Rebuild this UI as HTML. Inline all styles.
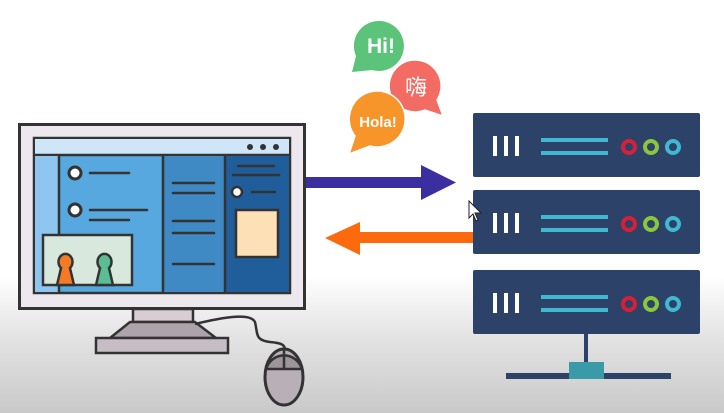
<!DOCTYPE html>
<html><head><style>
html,body{margin:0;padding:0;}
body{width:724px;height:413px;overflow:hidden;background:linear-gradient(#fff 0,#fff 275px,#e2e2e2 340px,#c9c9c9 413px);}
svg{display:block}
</style></head><body>
<svg width="724" height="413" viewBox="0 0 724 413" xmlns="http://www.w3.org/2000/svg">
<path d="M352,72 L356,56 A25,25 0 1 1 372,70 Z" fill="#5cc47a"/>
<text x="381" y="53" font-family="Liberation Sans, sans-serif" font-weight="bold" font-size="21" fill="#fff" text-anchor="middle">Hi!</text>
<path d="M443,116 L437,100 A26,26 0 1 0 425,110 Z" fill="#f26c63" stroke="#fff" stroke-width="1.5"/>
<text x="416" y="95" font-family="Liberation Sans, Noto Sans CJK SC, sans-serif" font-size="22" fill="#fff" text-anchor="middle">嗨</text>
<path d="M349,154 L355,136 A28,28 0 1 1 370,146 Z" fill="#f7952a" stroke="#fff" stroke-width="1.5"/>
<text x="378" y="127" font-family="Liberation Sans, sans-serif" font-weight="bold" font-size="15" fill="#fff" text-anchor="middle">Hola!</text>
<rect x="305" y="177" width="118" height="11" fill="#3b2fa0"/>
<polygon points="421,165 456,182.5 421,200" fill="#3b2fa0"/>
<rect x="358" y="232" width="116" height="11" fill="#fd6a0d"/>
<polygon points="360,222 325,238 360,255" fill="#fd6a0d"/>
<g id="srv">
<rect x="473" y="113" width="227" height="64" rx="2" fill="#2c4269"/>
<rect x="493" y="136" width="4" height="20" fill="#fff"/>
<rect x="504" y="136" width="4" height="20" fill="#fff"/>
<rect x="515" y="136" width="4" height="20" fill="#fff"/>
<rect x="541" y="138" width="67" height="4" fill="#40b8d0"/>
<rect x="541" y="151" width="67" height="4" fill="#40b8d0"/>
<circle cx="629" cy="147" r="6" fill="none" stroke="#d6203a" stroke-width="4"/>
<circle cx="651" cy="147" r="6" fill="none" stroke="#8cc63f" stroke-width="4"/>
<circle cx="673" cy="147" r="6" fill="none" stroke="#40b8d0" stroke-width="4"/>
</g>
<use href="#srv" y="77"/>
<use href="#srv" y="157"/>
<rect x="584" y="334" width="4" height="40" fill="#2c4269"/>
<rect x="506" y="373" width="165" height="6" fill="#2c4269"/>
<rect x="569" y="362" width="35" height="17" fill="#3a9aa8"/>
<path d="M469,201 L469,218 L473,214 L476,221 L478,220 L475,213 L481,213 Z" fill="#fff" stroke="#222" stroke-width="1"/>
<rect x="19.5" y="124.5" width="285" height="184" fill="#ece8ee" stroke="#333" stroke-width="3"/>
<rect x="34" y="138" width="256" height="155" fill="#56a8df" stroke="#333" stroke-width="2.5"/>
<rect x="35" y="139" width="254" height="16" fill="#cfe6f8"/>
<line x1="34" y1="155" x2="290" y2="155" stroke="#333" stroke-width="2.5"/>
<circle cx="250" cy="147" r="3" fill="#333"/><circle cx="263" cy="147" r="3" fill="#333"/><circle cx="276" cy="147" r="3" fill="#333"/>
<rect x="35" y="156" width="24" height="136" fill="#8ec6ef"/>
<line x1="59" y1="155" x2="59" y2="293" stroke="#333" stroke-width="2.5"/>
<rect x="163" y="156" width="62" height="136" fill="#3f8ac4"/>
<rect x="226" y="156" width="63" height="136" fill="#1f5e9a"/>
<line x1="163" y1="155" x2="163" y2="293" stroke="#333" stroke-width="2.5"/>
<line x1="225" y1="155" x2="225" y2="293" stroke="#333" stroke-width="2.5"/>
<g stroke="#333" stroke-width="2.5" stroke-linecap="round">
<line x1="90" y1="173" x2="129" y2="173"/>
<line x1="90" y1="210" x2="147" y2="210"/>
<line x1="90" y1="220" x2="129" y2="220"/>
<line x1="173" y1="183" x2="214" y2="183"/>
<line x1="173" y1="193" x2="214" y2="193"/>
<line x1="173" y1="221" x2="214" y2="221"/>
<line x1="173" y1="233" x2="214" y2="233"/>
<line x1="173" y1="264" x2="214" y2="264"/>
<line x1="238" y1="166" x2="274" y2="166"/>
<line x1="233" y1="175" x2="279" y2="175"/>
<line x1="252" y1="192" x2="275" y2="192"/>
</g>
<circle cx="75" cy="173" r="6" fill="#fff" stroke="#333" stroke-width="3"/>
<circle cx="75" cy="210" r="6" fill="#fff" stroke="#333" stroke-width="3"/>
<circle cx="237" cy="192" r="5" fill="#fff" stroke="#333" stroke-width="2.5"/>
<rect x="236" y="210" width="42" height="47" fill="#fde0b5" stroke="#333" stroke-width="2.5"/>
<rect x="43" y="235" width="89" height="50" fill="#d8e8dc" stroke="#333" stroke-width="2.5"/>
<path d="M57,285 L61,268 A7,8 0 1 1 70,268 L74,285 Z" fill="#f47a26" stroke="#333" stroke-width="2.5"/>
<path d="M96,285 L100,268 A7,8 0 1 1 109,268 L113,285 Z" fill="#5cbd95" stroke="#333" stroke-width="2.5"/>
<rect x="133" y="309" width="60" height="13" fill="#d8cdd2" stroke="#333" stroke-width="2.5"/>
<path d="M130,322 L195,322 L216,338 L110,338 Z" fill="#aca4aa" stroke="#333" stroke-width="2.5"/>
<rect x="96" y="338" width="132" height="15" fill="#c6bec4" stroke="#333" stroke-width="2.5"/>
<path d="M195,324 C220,318 250,312 255,322 C258,335 255,340 270,342 C282,343 285,345 285,350" fill="none" stroke="#333" stroke-width="2.5"/>
<ellipse cx="284" cy="377" rx="19" ry="28" fill="#b8b0b6" stroke="#333" stroke-width="3"/>
<path d="M266,369 A19,20 0 0 1 302,369 Z" fill="#9d9599" stroke="#333" stroke-width="2.5"/>
<line x1="284" y1="349" x2="284" y2="369" stroke="#333" stroke-width="2.5"/>
</svg>
</body></html>
